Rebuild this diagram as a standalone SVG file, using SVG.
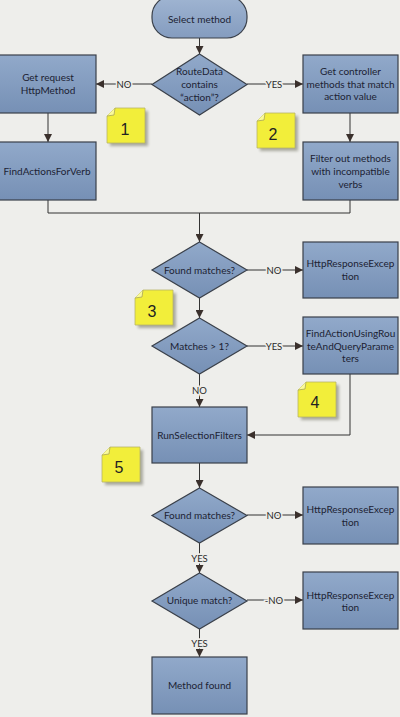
<svg xmlns="http://www.w3.org/2000/svg" width="400" height="717" viewBox="0 0 400 717">
<defs>
<linearGradient id="gBox" x1="0" y1="0" x2="0" y2="1">
<stop offset="0" stop-color="#91a9ca"/>
<stop offset="1" stop-color="#7690b5"/>
</linearGradient>
<linearGradient id="gTerm" x1="0" y1="0" x2="0" y2="1">
<stop offset="0" stop-color="#a0b5d2"/>
<stop offset="1" stop-color="#849cbf"/>
</linearGradient>
<filter id="sh" x="-20%" y="-20%" width="160%" height="160%">
<feGaussianBlur stdDeviation="1.5"/>
</filter>
<marker id="ah" viewBox="0 0 10 10" refX="10" refY="5" markerWidth="8" markerHeight="8" markerUnits="userSpaceOnUse" orient="auto">
<path d="M0,0 L10,5 L0,10 z" fill="#3a302c"/>
</marker>
<g id="note">
<path d="M11,3 L41,3 L41,38 L3,38 L3,11 Z" fill="#7a7a6a" opacity="0.6" filter="url(#sh)"/>
<path d="M8,0 L38,0 L38,35 L0,35 L0,8 Z" fill="#f2ee3a" stroke="#b8b468" stroke-width="0.8"/>
<path d="M8,0 L7,7 L0,8" fill="#fafa9a" stroke="#a8a458" stroke-width="0.8"/>
</g>
</defs>
<style>
.box{fill:url(#gBox);stroke:#3a404a;stroke-width:1.2}
.term{fill:url(#gTerm);stroke:#3a404a;stroke-width:1.2}
.t{font-family:Lato,"Liberation Sans",sans-serif;font-size:10px;fill:#1c2233;text-anchor:middle;dominant-baseline:central}
.lbl{font-family:Lato,"Liberation Sans",sans-serif;font-size:9.5px;fill:#2a2a2a;text-anchor:middle;dominant-baseline:central;paint-order:stroke;stroke:#eeeeeb;stroke-width:3px}
.num{font-family:"Liberation Sans",Arial,sans-serif;font-size:16px;fill:#222;text-anchor:middle;dominant-baseline:central}
.c{fill:none;stroke:#333;stroke-width:1}
</style>
<rect width="400" height="717" fill="#eeeeeb"/>

<g id="connectors">
<path class="c" d="M199.5,38 V54" marker-end="url(#ah)"/>
<path class="c" d="M152,84 H96" marker-end="url(#ah)"/>
<path class="c" d="M247,84 H303" marker-end="url(#ah)"/>
<path class="c" d="M48,113 V142" marker-end="url(#ah)"/>
<path class="c" d="M350,113 V142" marker-end="url(#ah)"/>
<path class="c" d="M48,200 V213 H350 V200"/>
<path class="c" d="M199.5,213 V242" marker-end="url(#ah)"/>
<path class="c" d="M247,270 H303" marker-end="url(#ah)"/>
<path class="c" d="M199.5,298 V318" marker-end="url(#ah)"/>
<path class="c" d="M247,346 H303" marker-end="url(#ah)"/>
<path class="c" d="M199.5,374 V407" marker-end="url(#ah)"/>
<path class="c" d="M350,374 V435 H247" marker-end="url(#ah)"/>
<path class="c" d="M199.5,463 V488" marker-end="url(#ah)"/>
<path class="c" d="M247,515 H303" marker-end="url(#ah)"/>
<path class="c" d="M199.5,543 V573" marker-end="url(#ah)"/>
<path class="c" d="M247,600 H303" marker-end="url(#ah)"/>
<path class="c" d="M199.5,629 V657" marker-end="url(#ah)"/>
<text class="lbl" x="124" y="84">NO</text>
<text class="lbl" x="274" y="84">YES</text>
<text class="lbl" x="274" y="270">NO</text>
<text class="lbl" x="274" y="346">YES</text>
<text class="lbl" x="199.5" y="390">NO</text>
<text class="lbl" x="274" y="515">NO</text>
<text class="lbl" x="199.5" y="558">YES</text>
<text class="lbl" x="274" y="600">-NO</text>
<text class="lbl" x="199.5" y="643">YES</text>
</g>

<g id="start">
<rect class="term" x="152" y="-4" width="95" height="42" rx="20" ry="20"/>
<text class="t" x="199.5" y="19">Select method</text>
</g>

<g id="d-routedata">
<polygon class="box" points="199.5,54 247,84.5 199.5,115 152,84.5"/>
<text class="t" x="199.5" y="71">RouteData</text>
<text class="t" x="199.5" y="84">contains</text>
<text class="t" x="199.5" y="97">“action”?</text>
</g>

<g id="b-getrequest">
<rect class="box" x="-1" y="55" width="97" height="58"/>
<text class="t" x="48" y="77">Get request</text>
<text class="t" x="48" y="90">HttpMethod</text>
</g>

<g id="b-getcontroller">
<rect class="box" x="303" y="55" width="95" height="58"/>
<text class="t" x="350.5" y="71">Get controller</text>
<text class="t" x="350.5" y="84">methods that match</text>
<text class="t" x="350.5" y="96">action value</text>
</g>

<g id="b-findactions">
<rect class="box" x="-1" y="142" width="97" height="58"/>
<text class="t" x="47" y="171">FindActionsForVerb</text>
</g>

<g id="b-filter">
<rect class="box" x="303" y="142" width="95" height="58"/>
<text class="t" x="350.5" y="158">Filter out methods</text>
<text class="t" x="350.5" y="171">with incompatible</text>
<text class="t" x="350.5" y="184">verbs</text>
</g>

<g id="d-found1">
<polygon class="box" points="199.5,242 247,270 199.5,298 152,270"/>
<text class="t" x="199.5" y="270">Found matches?</text>
</g>

<g id="b-exc1">
<rect class="box" x="303" y="242" width="95" height="56"/>
<text class="t" x="350.5" y="263">HttpResponseExcep</text>
<text class="t" x="350.5" y="276">tion</text>
</g>

<g id="d-matches">
<polygon class="box" points="199.5,318 247,346 199.5,374 152,346"/>
<text class="t" x="199.5" y="346">Matches &gt; 1?</text>
</g>

<g id="b-findusing">
<rect class="box" x="303" y="317" width="95" height="57"/>
<text class="t" x="350.5" y="333">FindActionUsingRou</text>
<text class="t" x="350.5" y="346">teAndQueryParame</text>
<text class="t" x="350.5" y="358">ters</text>
</g>

<g id="b-runsel">
<rect class="box" x="152" y="407" width="95" height="56"/>
<text class="t" x="199.5" y="435">RunSelectionFilters</text>
</g>

<g id="d-found2">
<polygon class="box" points="199.5,488 247,515.5 199.5,543 152,515.5"/>
<text class="t" x="199.5" y="515">Found matches?</text>
</g>

<g id="b-exc2">
<rect class="box" x="303" y="487" width="95" height="57"/>
<text class="t" x="350.5" y="509">HttpResponseExcep</text>
<text class="t" x="350.5" y="522">tion</text>
</g>

<g id="d-unique">
<polygon class="box" points="199.5,573 247,601 199.5,629 152,601"/>
<text class="t" x="199.5" y="600">Unique match?</text>
</g>

<g id="b-exc3">
<rect class="box" x="303" y="572" width="95" height="57"/>
<text class="t" x="350.5" y="595">HttpResponseExcep</text>
<text class="t" x="350.5" y="607">tion</text>
</g>

<g id="b-found">
<rect class="box" x="152" y="657" width="95" height="57"/>
<text class="t" x="199.5" y="685">Method found</text>
</g>

<g id="note1" transform="translate(107,108)">
<use href="#note"/>
<text class="num" x="18" y="21">1</text>
</g>
<g id="note2" transform="translate(257,113)">
<use href="#note"/>
<text class="num" x="16" y="21">2</text>
</g>
<g id="note3" transform="translate(135,290)">
<use href="#note"/>
<text class="num" x="17" y="21">3</text>
</g>
<g id="note4" transform="translate(298,382)">
<use href="#note"/>
<text class="num" x="17" y="20">4</text>
</g>
<g id="note5" transform="translate(102,447)">
<use href="#note"/>
<text class="num" x="17" y="20">5</text>
</g>
</svg>
